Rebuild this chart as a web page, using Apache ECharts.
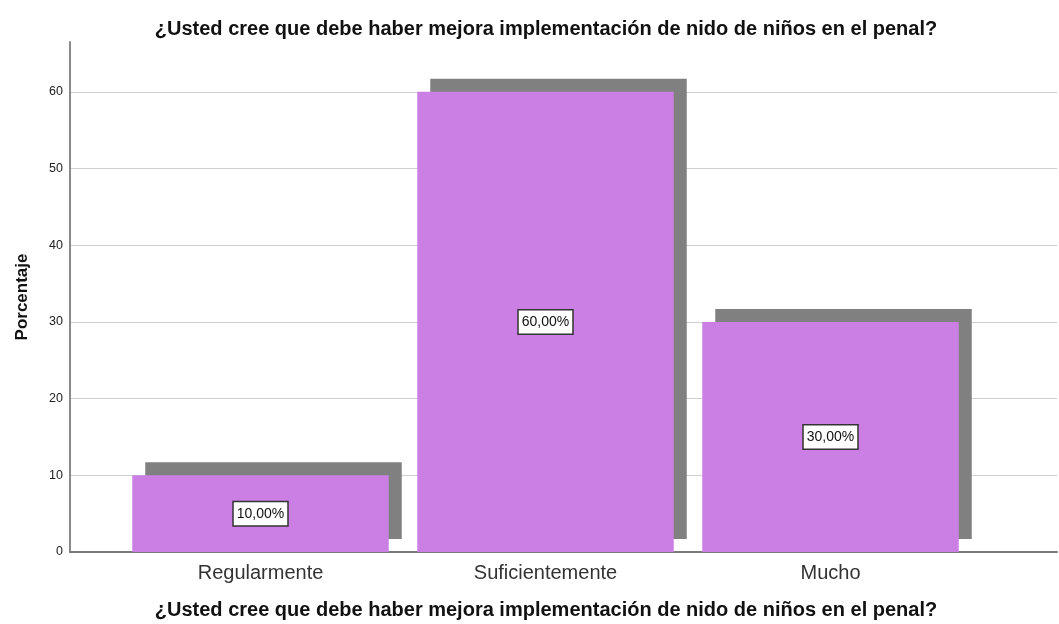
<!DOCTYPE html>
<html>
<head>
<meta charset="utf-8">
<script src="https://cdn.jsdelivr.net/npm/echarts@6/dist/echarts.min.js"></script>
<style>
  html, body { margin: 0; padding: 0; background: #fff; }
  #chart { width: 1059px; height: 624px; }
</style>
</head>
<body>
<div id="chart"></div>
<script>
// datos
const categorias = ['Regularmente', 'Suficientemente', 'Mucho'];
const porcentajes = [10, 60, 30];
const ticksY = [0, 10, 20, 30, 40, 50, 60];

const pregunta = '¿Usted cree que debe haber mejora implementación de nido de niños en el penal?';
const fuente = '"Liberation Sans", Arial, sans-serif';

const chart = echarts.init(document.getElementById('chart'));

// lineas de rejilla: la ultima (tope del eje) va transparente
const colorRejilla = ticksY.map(() => '#cfcfcf').concat(['rgba(0,0,0,0)']);

const option = {
  animation: false,
  title: [
    {
      text: pregunta,
      left: 541,
      top: 14,
      textAlign: 'center',
      textStyle: { fontFamily: fuente, fontSize: 20, fontWeight: 'bold', color: '#111' }
    },
    {
      text: pregunta,
      left: 541,
      top: 595,
      textAlign: 'center',
      textStyle: { fontFamily: fuente, fontSize: 20, fontWeight: 'bold', color: '#111' }
    }
  ],
  grid: [
    { left: 70, right: 2, top: 42, bottom: 72 },
    { left: 118, right: 86, top: 42, bottom: 72 }
  ],
  xAxis: [
    {
      gridIndex: 0,
      type: 'category',
      data: categorias,
      axisLine: { lineStyle: { color: '#7a7a7a', width: 2 } },
      axisTick: { show: false },
      axisLabel: { show: false }
    },
    {
      gridIndex: 1,
      type: 'category',
      data: categorias,
      axisLine: { show: false },
      axisTick: { show: false },
      axisLabel: { margin: 11, fontFamily: fuente, fontSize: 20, color: '#333' }
    }
  ],
  yAxis: [
    {
      gridIndex: 0,
      type: 'value',
      min: 0,
      max: 66.5,
      interval: 10,
      name: 'Porcentaje',
      nameLocation: 'middle',
      nameGap: 39,
      nameTextStyle: { fontFamily: fuente, fontSize: 17, fontWeight: 'bold', color: '#111' },
      axisLine: { show: true, lineStyle: { color: '#8a8a8a', width: 2 } },
      axisTick: { show: false },
      axisLabel: { margin: 7, fontFamily: fuente, fontSize: 12.5, color: '#222', showMaxLabel: false },
      splitLine: { show: true, lineStyle: { color: colorRejilla, width: 1 } }
    },
    {
      gridIndex: 1,
      type: 'value',
      min: 0,
      max: 66.5,
      show: false,
      splitLine: { show: false }
    }
  ],
  series: [
    {
      type: 'bar',
      xAxisIndex: 1,
      yAxisIndex: 1,
      data: porcentajes,
      barCategoryGap: '10%',
      itemStyle: {
        color: '#cb7fe4',
        shadowColor: '#808080',
        shadowBlur: 0,
        shadowOffsetX: 13,
        shadowOffsetY: -13
      },
      label: {
        show: true,
        position: 'inside',
        formatter: p => p.value.toFixed(2).replace('.', ',') + '%',
        fontFamily: fuente,
        fontSize: 14,
        lineHeight: 16,
        color: '#111',
        backgroundColor: '#fff',
        borderColor: '#333',
        borderWidth: 1.5,
        padding: [4, 3, 3, 3]
      }
    }
  ]
};

chart.setOption(option);
</script>
</body>
</html>
